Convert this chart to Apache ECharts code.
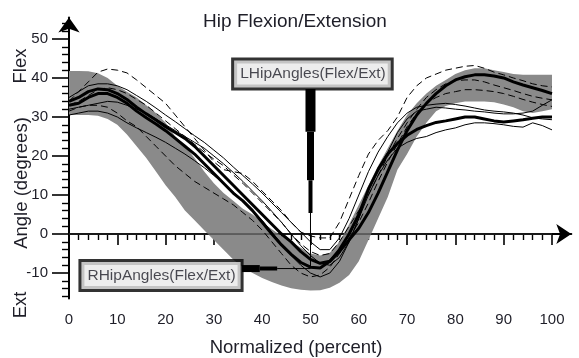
<!DOCTYPE html>
<html><head><meta charset="utf-8">
<script src="https://cdn.jsdelivr.net/npm/echarts@6/dist/echarts.min.js"></script>
<style>html,body{margin:0;padding:0;background:#fff}#c{width:579px;height:358px}</style>
</head><body><div id="c"></div>
<script>
// ---- data ----
const xValues = [0,2,4,6,8,10,12,14,16,18,20,22,24,26,28,30,32,34,36,38,40,42,44,46,48,50,52,54,56,58,60,62,64,66,68,70,72,74,76,78,80,82,84,86,88,90,92,94,96,98,100];
const xMajorTicks = [0,10,20,30,40,50,60,70,80,90,100];
const xMinorTicks = [2,4,6,8,12,14,16,18,22,24,26,28,32,34,36,38,42,44,46,48,52,54,56,58,62,64,66,68,72,74,76,78,82,84,86,88,92,94,96,98];
const yMajorTicks = [-10,0,10,20,30,40,50];
const yMinorTicks = [-16,-14,-12,-8,-6,-4,-2,2,4,6,8,12,14,16,18,22,24,26,28,32,34,36,38,42,44,46,48,52,54];

const bandUpper = [41.8,41.8,41.7,41.2,40,38,36.5,35,33,31,28.5,25,22.5,19.5,16,13,10.5,8.5,6.5,5,3,1.2,-0.5,-2,-3.5,-5,-5.5,-4.8,-2,2.5,7.5,12.5,17.5,22,26.5,30.5,33.5,36,38,39.5,41,42,42.5,42.5,42,41.5,41,40.8,40.8,40.8,40.8];
const bandLower = [30.5,30.5,30.5,30.3,29.5,28,25.5,22.5,19.5,16,12.5,9.5,6,3.5,1,-1.5,-4,-6.5,-8.5,-10,-11.3,-12.3,-13.2,-13.9,-14.3,-14.5,-14.4,-13.8,-12.5,-10.5,-7,-1.5,4,9.5,16.5,20.5,25,28.5,31.5,32.8,33.5,34,34,34,33.8,33.2,32.5,31.5,31,31.5,32];

const meanL = [34,35,36.5,37.2,37,36,34.5,32.5,30.8,29.2,27.5,26,24.5,22.5,20,17.5,15,12.5,10,7.5,5,2.5,0,-2,-4.5,-6.5,-7.5,-7,-4.5,-1.5,1.5,5.5,10.5,16,21.5,26.5,30.5,33.5,36,38,39.5,40.3,40.8,40.8,40.5,40,39,38.2,37.5,36.8,36];
const meanR = [33,33.5,35,36,36,35,33.5,31.5,29.8,28.2,26.5,24.5,22.5,20.5,18,15.5,13,10.5,8.5,6,3,0,-2.8,-5.2,-7.3,-8.5,-8.7,-7,-4,0,5,11.5,16.5,20.5,23.2,25.3,26.8,27.8,28.6,29,29.5,30,30,29.5,29,28.7,29,29.3,29.7,30,30];

const trialL1 = [34,36.5,39,41.5,42.3,42,41.3,39.5,37.5,35.5,33.5,30.5,27.5,24.5,21.5,18.5,16.5,16,15.5,13.5,11,8.5,6,3,0.5,-0.5,-1,-1,3,9,15,20.5,24,26.5,30,35,38,40,41,42,42.5,43,43.2,42.5,41.5,40.8,40,39.3,38.5,38,37.7];
const trialL2 = [31.5,32.5,33,33,32.5,31,29,27.5,25,22.5,20,17.5,15.5,13.5,12,10.5,9,7.5,5.5,3.5,1,-2,-5,-8,-10,-11,-10.5,-8.5,-5,-1,3,8,13.5,18.5,23,27.5,31,33.5,35,36,36.5,37,37,36.8,36.5,36,35.3,34.5,33.8,33.2,32.7];
const trialL3 = [33,34,35.5,37,37.5,37,36,34.5,33,31,29,27,25,23,21,19.2,17.5,15.2,13,10.5,8,5.5,3,0,-2.5,-4.5,-5.5,-5,-2,2,6,10,15,20,24.5,28.5,32,35,37,38.5,39.3,39.5,39.5,39,38.2,37.5,36.8,36,35.3,34.8,34.4];

const trialR1 = [32,32.5,33,33.5,34,33.8,33,32,31,29.5,28,26.5,25,23.5,22,20,18,15.8,13.5,11,8.5,5.8,3,0,-3,-5.5,-7.5,-8,-6,-2,4,11,17,21,26,29.5,31.5,32,32.5,32.3,32,31.8,31.5,31.3,31,30.8,30.8,31,31.5,33,34.4];
const trialR2 = [30.5,31,31.5,31.5,31,30,28.5,27.2,26,24.8,23.5,22,20.5,18.8,17,15,13,10.8,8.5,6,3.5,0.5,-2.5,-5.5,-8,-10,-11,-10,-7,-2,4,10,15,19,22,23.5,24.5,25,26,26.7,27.2,28,28.5,28.5,28.3,28,27.6,27.4,28.5,27.8,26.7];
const trialR3 = [35,36.5,38,38.5,38.5,38,37,35.5,34,32.3,30.5,28.8,27,25.2,23.5,21.5,19.5,17.2,15,12.8,10.5,8,5.5,3,0.5,-2,-4,-4,-1,4,10,16,21,25,28.5,31,32.5,33,33.3,33.5,33.2,32.8,32.3,31.8,31.5,31.3,31,30.5,29.8,29.5,29.3];

const zeroLine = [[0,0],[100,0]];
const labelL = 'LHipAngles(Flex/Ext)';
const labelR = 'RHipAngles(Flex/Ext)';

// ---- chart ----
const FONT = '"Liberation Sans", Arial, sans-serif';
const TXT = '#1e1e28';
const pts = arr => xValues.map((x,i)=>[x, arr[i]]);
const bandData = xValues.map((x,i)=>[x, bandLower[i], bandUpper[i]]);

function lineSeries(data, width, dashed, z) {
  return {type:'line', data:pts(data), symbol:'none', silent:true, z:z||3,
    lineStyle:{color:'#000', width:width, type: dashed ? [7,4] : 'solid'}};
}
function seg(p1, p2, w) {
  return {type:'line', data:[p1,p2], symbol:'none', silent:true, z:8,
    lineStyle:{color:'#000', width:w, cap:'butt'}};
}

const chart = echarts.init(document.getElementById('c'), null, {renderer:'canvas'});
const option = {
  animation:false,
  textStyle:{fontFamily:FONT},
  grid:{left:69, right:7.7, top:17.5, bottom:59.6, containLabel:false},
  xAxis:[
    {type:'value', min:0, max:104, position:'bottom',
     axisLine:{show:true, lineStyle:{color:'#000', width:2}, symbol:['none','arrow'], symbolSize:[15,15]},
     axisTick:{show:true, customValues:xMajorTicks, length:11, lineStyle:{color:'#000', width:1.6}},
     axisLabel:{show:true, customValues:xMajorTicks, fontSize:15, color:TXT, margin:14, fontFamily:FONT},
     splitLine:{show:false}},
    {type:'value', min:0, max:104, position:'bottom',
     axisLine:{show:false},
     axisTick:{show:true, customValues:xMinorTicks, length:6, lineStyle:{color:'#000', width:1.4}},
     axisLabel:{show:false}, splitLine:{show:false}}
  ],
  yAxis:[
    {type:'value', min:-16.5, max:55.5, position:'left',
     axisLine:{show:true, lineStyle:{color:'#000', width:2}, symbol:['none','arrow'], symbolSize:[16,15]},
     axisTick:{show:true, customValues:yMajorTicks, length:17, lineStyle:{color:'#000', width:1.6}},
     axisLabel:{show:true, customValues:yMajorTicks, fontSize:15, color:TXT, margin:21, fontFamily:FONT},
     splitLine:{show:false}},
    {type:'value', min:-16.5, max:55.5, position:'left',
     axisLine:{show:false},
     axisTick:{show:true, customValues:yMinorTicks, length:7, lineStyle:{color:'#000', width:1.4}},
     axisLabel:{show:false}, splitLine:{show:false}}
  ],
  series:[
    {type:'custom', data:bandData, silent:true, z:1, encode:{x:0, y:[1,2]},
     renderItem:function(params, api){
       if (params.dataIndex !== 0) return null;
       const top = [], bottom = [];
       for (let i = 0; i < bandData.length; i++) {
         top.push(api.coord([bandData[i][0], bandData[i][2]]));
         bottom.push(api.coord([bandData[i][0], bandData[i][1]]));
       }
       const points = top.concat(bottom.reverse());
       return {type:'polygon', shape:{points:points}, style:{fill:'#8a8a8a', stroke:null}};
     }},
    {type:'line', data:zeroLine, symbol:'none', silent:true, z:2, lineStyle:{color:'#333', width:1}},
    lineSeries(trialL1, 1, true),
    lineSeries(trialL2, 1, true),
    lineSeries(trialL3, 1, true),
    lineSeries(trialR1, 1, false),
    lineSeries(trialR2, 1, false),
    lineSeries(trialR3, 1, false),
    lineSeries(meanL, 3, false, 4),
    lineSeries(meanR, 3, false, 4),
    seg([50,37.2],[50,26.2],10),
    seg([50,26.2],[50,13.8],7),
    seg([50,13.8],[50,5.4],4),
    seg([50,5.4],[50,-8.3],1),
    seg([35.8,-8.85],[39.5,-8.85],7),
    seg([39.5,-8.85],[43.1,-8.85],4),
    seg([43.1,-8.85],[50,-8.85],1),
    {type:'scatter', silent:true, z:10, symbolSize:1, itemStyle:{color:'rgba(0,0,0,0)'},
     data:[{name:labelL, value:[50.4,41.0]},{name:labelR, value:[19.05,-10.64]}],
     label:{show:true, position:'inside', formatter:'{b}', fontSize:15.5, fontFamily:FONT, color:TXT,
       backgroundColor:'#e8e8e8', borderColor:'#000', borderWidth:3, padding:[5,5,4,6], lineHeight:18}}
  ],
  graphic:[
    {type:'text', x:295, y:22, silent:true, style:{text:'Hip Flexion/Extension', fontSize:19, fontFamily:FONT, fill:TXT, align:'center', verticalAlign:'middle'}},
    {type:'text', x:296, y:348, silent:true, style:{text:'Normalized (percent)', fontSize:18.5, fontFamily:FONT, fill:TXT, align:'center', verticalAlign:'middle'}},
    {type:'text', x:22, y:183, rotation:Math.PI/2, silent:true, style:{text:'Angle (degrees)', fontSize:18.5, fontFamily:FONT, fill:TXT, align:'center', verticalAlign:'middle'}},
    {type:'text', x:21, y:66, rotation:Math.PI/2, silent:true, style:{text:'Flex', fontSize:18.5, fontFamily:FONT, fill:TXT, align:'center', verticalAlign:'middle'}},
    {type:'text', x:21, y:305, rotation:Math.PI/2, silent:true, style:{text:'Ext', fontSize:18.5, fontFamily:FONT, fill:TXT, align:'center', verticalAlign:'middle'}}
  ]
};
chart.setOption(option);
</script></body></html>
